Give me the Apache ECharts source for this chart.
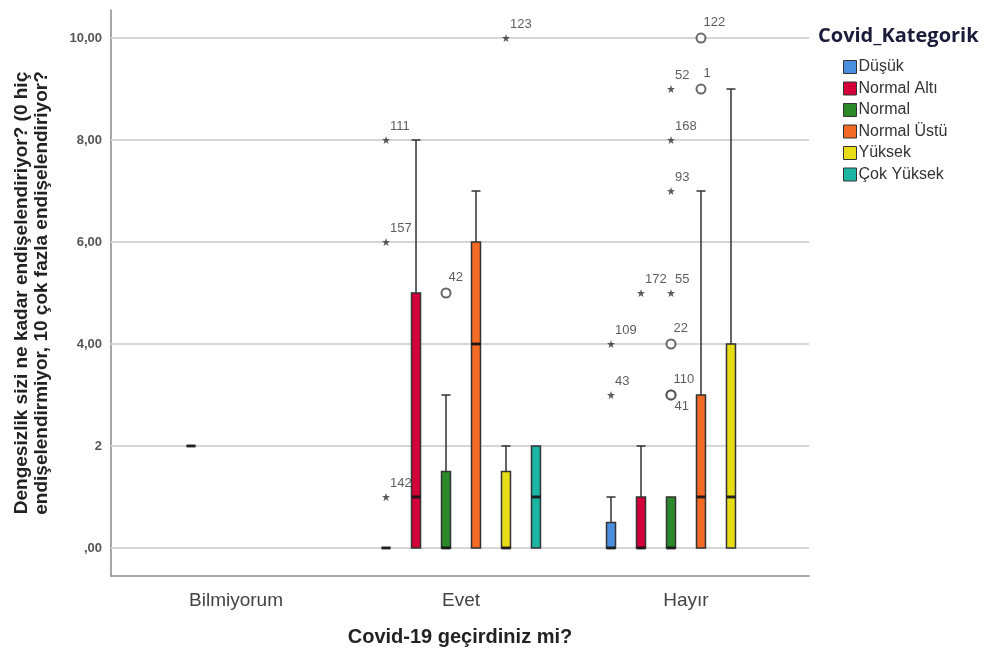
<!DOCTYPE html>
<html>
<head>
<meta charset="utf-8">
<script src="https://cdn.jsdelivr.net/npm/echarts@6/dist/echarts.min.js"></script>
<style>html,body{margin:0;padding:0;background:#fff}#c{width:984px;height:652px}</style>
</head>
<body>
<div id="c"></div>
<script>
// ---- data ----
const groups = ['Bilmiyorum', 'Evet', 'Hayır'];
const colorCats = ['Düşük', 'Normal Altı', 'Normal', 'Normal Üstü', 'Yüksek', 'Çok Yüksek'];
const colors = ['#4a8fdf', '#d3003a', '#2a8a2a', '#f26a24', '#e6dd16', '#1cb5a3'];
const yTicks = [0, 2, 4, 6, 8, 10];
const yTickLabels = [',00', '2', '4,00', '6,00', '8,00', '10,00'];
// box stats per group: [min, Q1, median, Q3, max]; null = no cases
const dusukBoxes      = [null, [0, 0, 0, 0, 0], [0, 0, 0, 0.5, 1]];
const normalAltiBoxes = [[2, 2, 2, 2, 2], [0, 0, 1, 5, 8], [0, 0, 0, 1, 2]];
const normalBoxes     = [null, [0, 0, 0, 1.5, 3], [0, 0, 0, 1, 1]];
const normalUstuBoxes = [null, [0, 0, 4, 6, 7], [0, 0, 1, 3, 7]];
const yuksekBoxes     = [null, [0, 0, 0, 1.5, 2], [0, 0, 1, 4, 9]];
const cokYuksekBoxes  = [null, [0, 0, 1, 2, 2], null];
// outliers: [groupIndex, categoryIndex, value, case id, kind]
const outliers = [
  [1, 0, 8, '111', 'extreme'], [1, 0, 6, '157', 'extreme'], [1, 0, 1, '142', 'extreme'],
  [1, 2, 5, '42', 'outlier'], [1, 4, 10, '123', 'extreme'],
  [2, 0, 3, '43', 'extreme'], [2, 0, 4, '109', 'extreme'],
  [2, 1, 5, '172', 'extreme'],
  [2, 2, 3, '110', 'outlier'], [2, 2, 3, '41', 'outlier'], [2, 2, 4, '22', 'outlier'],
  [2, 2, 5, '55', 'extreme'], [2, 2, 7, '93', 'extreme'], [2, 2, 8, '168', 'extreme'], [2, 2, 9, '52', 'extreme'],
  [2, 3, 9, '1', 'outlier'], [2, 3, 10, '122', 'outlier']
];
const allBoxes = [dusukBoxes, normalAltiBoxes, normalBoxes, normalUstuBoxes, yuksekBoxes, cokYuksekBoxes];

// ---- layout helpers ----
const slotStep = 0.1333;
const slotX = (g, c) => g + (c - (colorCats.length - 1) / 2) * slotStep;
const xMin = -0.5556, xMax = 2.5467;
const FONT = 'Arial, "Liberation Sans", sans-serif';
const starPath = 'path://M0,-10 L2.35,-3.24 L9.51,-3.09 L3.8,1.24 L5.88,8.09 L0,4 L-5.88,8.09 L-3.8,1.24 L-9.51,-3.09 L-2.35,-3.24 Z';

const xAxes = [{
  type: 'value', min: xMin, max: xMax, gridIndex: 0,
  axisLine: { show: true, onZero: false, lineStyle: { color: '#8a8a8a', width: 1.5 } },
  axisTick: { show: false },
  splitLine: { show: false },
  axisLabel: {
    customValues: groups.map((g, i) => i),
    formatter: v => groups[Math.round(v)],
    fontFamily: FONT, fontSize: 19, color: '#444', margin: 15
  },
  name: 'Covid-19 geçirdiniz mi?', nameLocation: 'middle', nameGap: 51,
  nameTextStyle: { fontFamily: FONT, fontSize: 20, fontWeight: 'bold', color: '#222' }
}];
colorCats.forEach(() => xAxes.push({ type: 'value', min: xMin, max: xMax, show: false }));

const series = [];
// gridlines
series.push({
  type: 'line', data: [], xAxisIndex: 0, z: 0, silent: true,
  markLine: {
    silent: true, z: 1, symbol: ['none', 'none'], label: { show: false },
    lineStyle: { color: '#d6d6d6', width: 2, type: 'solid' },
    data: yTicks.map(v => ({ yAxis: v }))
  }
});
colorCats.forEach((name, c) => {
  const data = [];
  allBoxes[c].forEach((b, g) => { if (b) data.push([slotX(g, c)].concat(b)); });
  series.push({
    type: 'boxplot', name, xAxisIndex: c + 1, yAxisIndex: 0,
    boxWidth: [9, 9], data, z: 2,
    itemStyle: { color: colors[c], borderColor: '#333', borderWidth: 1.5 },
    emphasis: { disabled: true }
  });
});
// medians
const medians = [];
allBoxes.forEach((boxes, c) => boxes.forEach((b, g) => { if (b) medians.push([slotX(g, c), b[2]]); }));
series.push({
  type: 'scatter', xAxisIndex: 0, z: 3, silent: true,
  symbol: 'rect', symbolSize: [9, 3], itemStyle: { color: '#111' }, data: medians
});
// outliers
const seen = {};
const mkOut = kind => outliers.filter(o => o[4] === kind).map(o => {
  const key = o[0] + '_' + o[1] + '_' + o[2];
  const dup = seen[key]; seen[key] = true;
  return {
    value: [slotX(o[0], o[1]), o[2]],
    label: { show: true, formatter: o[3], position: dup ? [9, 17] : [8, -10] }
  };
});
const lbl = { fontFamily: FONT, fontSize: 13, color: '#333', align: 'left', verticalAlign: 'middle' };
series.push({
  type: 'scatter', xAxisIndex: 0, z: 4, silent: true, symbol: 'emptyCircle', symbolSize: 9,
  itemStyle: { color: '#444', borderColor: '#444', borderWidth: 1.5 }, label: lbl, data: mkOut('outlier')
});
series.push({
  type: 'scatter', xAxisIndex: 0, z: 4, silent: true, symbol: starPath, symbolSize: 8,
  itemStyle: { color: '#333' }, label: lbl, data: mkOut('extreme')
});

const chart = echarts.init(document.getElementById('c'));
chart.setOption({
  animation: false,
  backgroundColor: '#fff',
  grid: { left: 111, right: 175, top: 10, bottom: 76, containLabel: false },
  xAxis: xAxes,
  yAxis: {
    type: 'value', min: -0.55, max: 10.55,
    axisLine: { show: true, onZero: false, lineStyle: { color: '#8a8a8a', width: 1.5 } },
    axisTick: { show: false },
    splitLine: { show: false },
    axisLabel: {
      customValues: yTicks,
      formatter: v => yTickLabels[yTicks.indexOf(Math.round(v))],
      fontFamily: FONT, fontSize: 13, fontWeight: 'bold', color: '#555', margin: 9
    },
    name: 'Dengesizlik sizi ne kadar endişelendiriyor? (0 hiç\nendişelendirmiyor, 10 çok fazla endişelendiriyor?',
    nameLocation: 'middle', nameRotate: 90, nameGap: 59,
    nameTextStyle: { fontFamily: FONT, fontSize: 19, fontWeight: 'bold', color: '#222', lineHeight: 20, align: 'center' }
  },
  legend: {
    orient: 'vertical', left: 838, top: 54, itemWidth: 13, itemHeight: 13, itemGap: 5.5,
    data: colorCats.map((n, i) => ({
      name: n, icon: 'rect',
      itemStyle: { color: colors[i], borderColor: '#333', borderWidth: 1 }
    })),
    textStyle: { fontFamily: FONT, fontSize: 16, color: '#333', padding: [0, 0, 0, -3] }
  },
  title: {
    text: 'Covid_Kategorik', left: 813, top: 21,
    textStyle: { fontFamily: '"Open Sans", sans-serif', fontSize: 20, fontWeight: 'bold', color: '#1b1b3a' }
  },
  series
});
</script>
</body>
</html>
